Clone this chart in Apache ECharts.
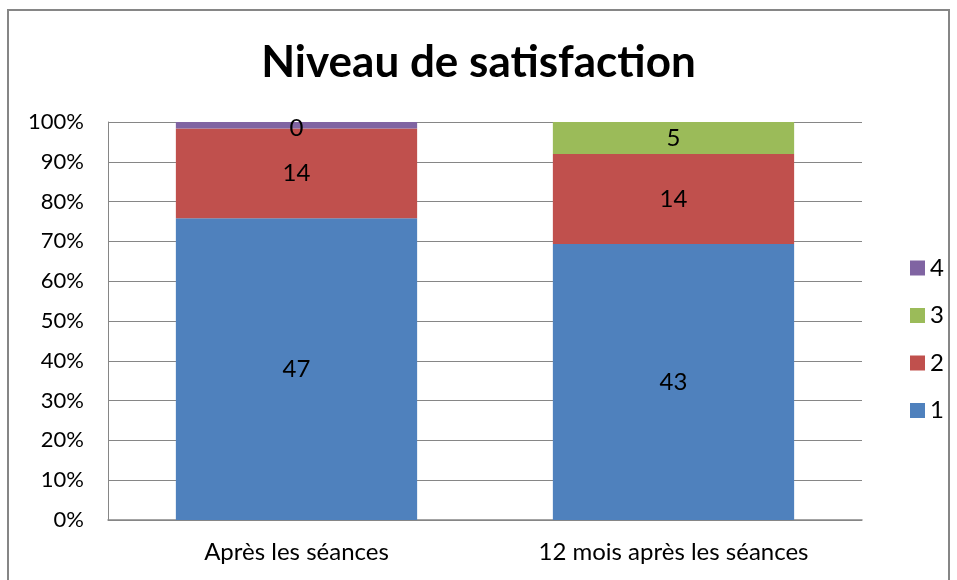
<!DOCTYPE html>
<html>
<head>
<meta charset="utf-8">
<script src="https://cdn.jsdelivr.net/npm/echarts@6/dist/echarts.min.js"></script>
<style>
  html, body { margin: 0; padding: 0; background: #fff; }
  #chart { width: 957px; height: 580px; }
</style>
</head>
<body>
<div id="chart"></div>
<script>
// categories and raw counts per satisfaction level
var categories = ['Après les séances', '12 mois après les séances'];
var niveau1 = [47, 43];
var niveau2 = [14, 14];
var niveau3 = [0, 5];
var niveau4 = [1, 0];
var yTicks = ['0%', '10%', '20%', '30%', '40%', '50%', '60%', '70%', '80%', '90%', '100%'];

var colors = ['#4F81BD', '#C0504D', '#9BBB59', '#8064A2'];
var font = 'Lato, "Open Sans", sans-serif';

var totals = categories.map(function (c, i) {
    return niveau1[i] + niveau2[i] + niveau3[i] + niveau4[i];
});

function toPct(arr) {
    return arr.map(function (v, i) {
        return { value: v / totals[i] * 100, raw: v };
    });
}

function mkSeries(name, arr, idx, showLabel) {
    return {
        name: name,
        type: 'bar',
        stack: 'total',
        barCategoryGap: '36%',
        data: toPct(arr),
        itemStyle: { color: colors[idx] },
        label: {
            show: showLabel,
            position: 'inside',
            color: '#000',
            fontSize: 24,
            fontFamily: font,
            formatter: function (p) { return p.data.raw; }
        }
    };
}

var chart = echarts.init(document.getElementById('chart'));
chart.setOption({
    animation: false,
    title: {
        text: 'Niveau de satisfaction',
        left: 'center',
        top: 36,
        textStyle: { fontSize: 44, fontWeight: 'bold', color: '#000', fontFamily: font }
    },
    graphic: [{
        type: 'rect',
        shape: { x: 8, y: 10, width: 941, height: 580 },
        style: { fill: 'none', stroke: '#868686', lineWidth: 2 },
        silent: true
    }],
    legend: {
        orient: 'vertical',
        left: 905,
        top: 251,
        itemWidth: 15,
        itemHeight: 15,
        itemGap: 23.5,
        icon: 'rect',
        data: ['4', '3', '2', '1'],
        textStyle: { fontSize: 24, lineHeight: 20, color: '#000', fontFamily: font }
    },
    grid: { left: 108, right: 95, top: 122, bottom: 60 },
    xAxis: {
        type: 'category',
        data: categories,
        axisLine: { lineStyle: { color: '#868686', width: 1.5 } },
        axisTick: { show: false },
        axisLabel: { fontSize: 24, color: '#000', fontFamily: font, margin: 20 }
    },
    yAxis: {
        type: 'value',
        min: 0,
        max: 100,
        interval: 10,
        axisLine: { show: true, lineStyle: { color: '#868686' } },
        axisTick: { show: false },
        splitLine: { lineStyle: { color: '#868686' } },
        axisLabel: {
            fontSize: 22, color: '#000', fontFamily: font, margin: 24,
            formatter: function (v) { return yTicks[Math.round(v / 10)]; }
        }
    },
    series: [
        mkSeries('1', niveau1, 0, true),
        mkSeries('2', niveau2, 1, true),
        mkSeries('3', niveau3, 2, true),
        mkSeries('4', niveau4, 3, false)
    ]
});
</script>
</body>
</html>
